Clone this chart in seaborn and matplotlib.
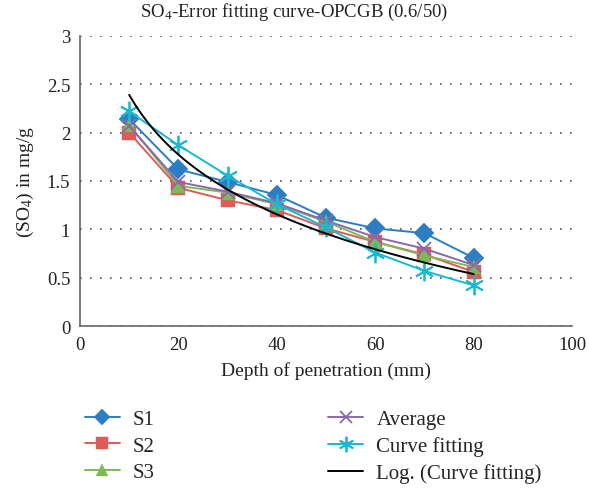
import numpy as np
import pandas as pd
import matplotlib
matplotlib.use("Agg")
import matplotlib.pyplot as plt
import seaborn as sns

depth = [10, 20, 30, 40, 50, 60, 70, 80]
s1 = [2.14, 1.62, 1.49, 1.355, 1.12, 1.01, 0.96, 0.705]
s2 = [2.00, 1.43, 1.30, 1.20, 1.01, 0.87, 0.74, 0.56]
s3 = [2.08, 1.45, 1.38, 1.26, 1.08, 0.87, 0.73, 0.61]
avg = [2.07, 1.49, 1.39, 1.27, 1.09, 0.92, 0.80, 0.63]
fit = [2.22, 1.87, 1.555, 1.26, 1.02, 0.76, 0.57, 0.42]

sns.set_theme(style="white")
plt.rcParams["font.family"] = ["Liberation Serif", "DejaVu Serif"]
plt.rcParams["mathtext.fontset"] = "custom"
plt.rcParams["mathtext.rm"] = "Liberation Serif"
plt.rcParams["mathtext.default"] = "regular"

fig = plt.figure(figsize=(5.89, 4.89), dpi=100)
ax = fig.add_axes([80/589, 1-327/489, (572-80)/589, (327-37)/489])

series = [
    ("S1", s1, "#2B7EC1", "D", 10, 0),
    ("S2", s2, "#E05A57", "s", 10, 0),
    ("S3", s3, "#7DBA56", "^", 10, 0),
    ("Average", avg, "#8A68B0", "x", 10, 1.3),
    ("Curve fitting", fit, "#18B9D1", (6, 2, 0), 14, 1.3),
]
for name, vals, col, mk, ms, mew in series:
    df = pd.DataFrame({"x": depth, "y": vals})
    kw = dict(marker=mk, markersize=ms, color=col, linewidth=1.4, label=name,
              markeredgecolor=col, markeredgewidth=mew if mew else 0.3)
    sns.lineplot(data=df, x="x", y="y", ax=ax, **kw)

# logarithmic trendline of the curve fitting series
coef = np.polyfit(np.log(depth), fit, 1)
xs = np.linspace(min(depth), max(depth), 200)
trend = pd.DataFrame({"x": xs, "y": coef[0] * np.log(xs) + coef[1]})
sns.lineplot(data=trend, x="x", y="y", ax=ax, color="black", linewidth=1.4,
             label="Log. (Curve fitting)")

ax.set_xlim(0, 100)
ax.set_ylim(0, 3)
ax.set_xticks([0, 20, 40, 60, 80, 100])
ax.set_yticks([0, 0.5, 1, 1.5, 2, 2.5, 3])
ax.set_yticklabels(["0", "0.5", "1", "1.5", "2", "2.5", "3"])
ax.yaxis.grid(True, linestyle=(0, (1, 5)), color="#555555", linewidth=1.2)
ax.xaxis.grid(False)
for s in ["top", "right"]:
    ax.spines[s].set_visible(False)
for s in ["left", "bottom"]:
    ax.spines[s].set_color("#666666")
    ax.spines[s].set_linewidth(1.2)
ax.tick_params(labelsize=13.5, colors="#222222", length=0, pad=7)
ax.set_xlabel("Depth of penetration (mm)", fontsize=14, color="#222222", labelpad=6)
ax.set_ylabel("(SO$_4$) in mg/g", fontsize=14, color="#222222", labelpad=8)
fig.text(0.5, 1-12/489, "SO$_4$-Error fitting curve-OPCGB (0.6/50)", ha="center",
         va="center", fontsize=13.5, color="#222222")

ax.get_legend().remove()
h, l = ax.get_legend_handles_labels()
fig.legend(h, l, ncol=2, loc="upper left", bbox_to_anchor=(66/589, 1-392/489),
           frameon=False, fontsize=15, handlelength=1.7, columnspacing=8.3,
           labelspacing=0.33, handletextpad=0.62, markerscale=0.8)

fig.savefig("out.png", dpi=100)
